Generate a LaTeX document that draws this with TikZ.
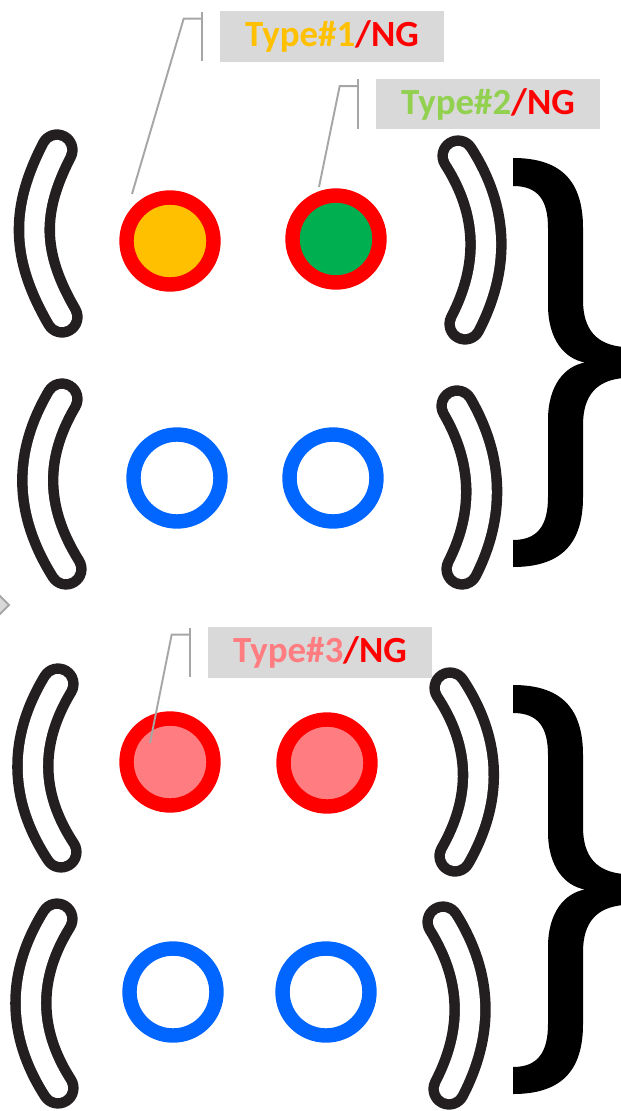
\documentclass[tikz,border=0pt]{standalone}
\usepackage{fontspec}
\setmainfont{Carlito}
\usepackage{xcolor}
\usepackage{tikz}
\usetikzlibrary{calc}

\definecolor{cOrange}{HTML}{FFC000}
\definecolor{cGreen}{HTML}{00B050}
\definecolor{cLime}{HTML}{92D050}
\definecolor{cPink}{HTML}{FF7C80}
\definecolor{cBlue}{HTML}{0066FF}
\definecolor{cTag}{HTML}{D9D9D9}
\definecolor{cLead}{HTML}{A6A6A6}
\definecolor{cParen}{HTML}{231F20}

\tikzset{
  ring/.style={circle, draw=red, line width=8.2pt, minimum size=1.74cm, inner sep=0pt},
  hole/.style={ring, draw=cBlue, fill=white},
  paren/.style={draw=cParen, line width=6pt, double=white, double distance=11.5pt, line cap=round},
  tag/.style={fill=cTag, minimum width=4.48cm, minimum height=1.02cm, inner sep=0pt,
    font=\fontsize{21}{24}\selectfont\bfseries},
  leader/.style={draw=cLead, line width=1.1pt}
}

\begin{document}
\begin{tikzpicture}[x=0.02cm, y=-0.02cm] %按像素坐标
		\useasboundingbox (0,0) rectangle (620,1111);
		%\draw[help lines] (0,0) grid (620,1111);
		% 圆点
		\node[ring, fill=cOrange] (o1) at (170,241) {};
		\node[ring, fill=cGreen] (o2) at (336,239) {};
		\node[hole] (b1) at (177,478) {};
		\node[hole] (b2) at (333,478) {};
		\node[ring, fill=cPink] (p1) at (170,762) {};
		\node[ring, fill=cPink] (p2) at (327,763) {};
		\node[hole] (b3) at (173,992) {};
		\node[hole] (b4) at (326,992) {};
		% 标签
		\node[tag] (tag1) at (332,36.5) {\textcolor{cOrange}{Type\#1}\textcolor{red}{/NG}};
		\node[tag] (tag2) at (488,104) {\textcolor{cLime}{Type\#2}\textcolor{red}{/NG}};
		\node[tag] (tag3) at (320,652.5) {\textcolor{cPink}{Type\#3}\textcolor{red}{/NG}};
		\coordinate (e1) at ($(o1)+(-38,-47)$);
		\coordinate (e2) at ($(o2)+(-17,-52)$);
		\coordinate (e3) at ($(p1)+(-20,-19)$);
		\foreach \t/\e in {tag1/e1, tag2/e2, tag3/e3}{
			\draw[leader] ($(\t.north west)+(-18,1)$) -- ($(\t.south west)+(-18,-1)$);
			\draw[leader] ($(\t.north west)+(-18,8)$) -- ++(-18,0) -- (\e);
		}
		% 括号
		\draw[paren] (57,150) .. controls (26,210) and (26,255) .. (62,317);
		\draw[paren] (62,399) .. controls (29,455) and (29,510) .. (66,569);
		\draw[paren] (458,156) .. controls (494,212) and (494,268) .. (465,324);
		\draw[paren] (457,406) .. controls (489,461) and (489,516) .. (462,569);
		\draw[paren] (58,684) .. controls (24,740) and (24,796) .. (61,852);
		\draw[paren] (57,919) .. controls (22,975) and (22,1032) .. (58,1088);
		\draw[paren] (450,688) .. controls (487,744) and (487,800) .. (455,856);
		\draw[paren] (443,922) .. controls (478,978) and (478,1033) .. (449,1089);
		% 大括号
		\foreach \s in {0,527}{
			\fill[black, shift={(0,\s)}] (513,158) .. controls (560,158) and (583,180) .. (583,228)
				-- (583,300) .. controls (583,330) and (597,345) .. (624,347)
				-- (624,378) .. controls (597,380) and (583,395) .. (583,425)
				-- (583,497) .. controls (583,545) and (560,567) .. (513,567)
				-- (513,540) .. controls (538,540) and (548,525) .. (548,497)
				-- (548,420) .. controls (548,385) and (565,366) .. (585,362.5)
				.. controls (565,359) and (548,340) .. (548,305)
				-- (548,228) .. controls (548,200) and (538,186) .. (513,186) -- cycle;
		}
		% 左边的箭头
		\filldraw[fill=cTag, draw=cLead, line width=1.1pt] (-6,590) -- (9,605) -- (-6,620);
	\end{tikzpicture}
\end{document}
